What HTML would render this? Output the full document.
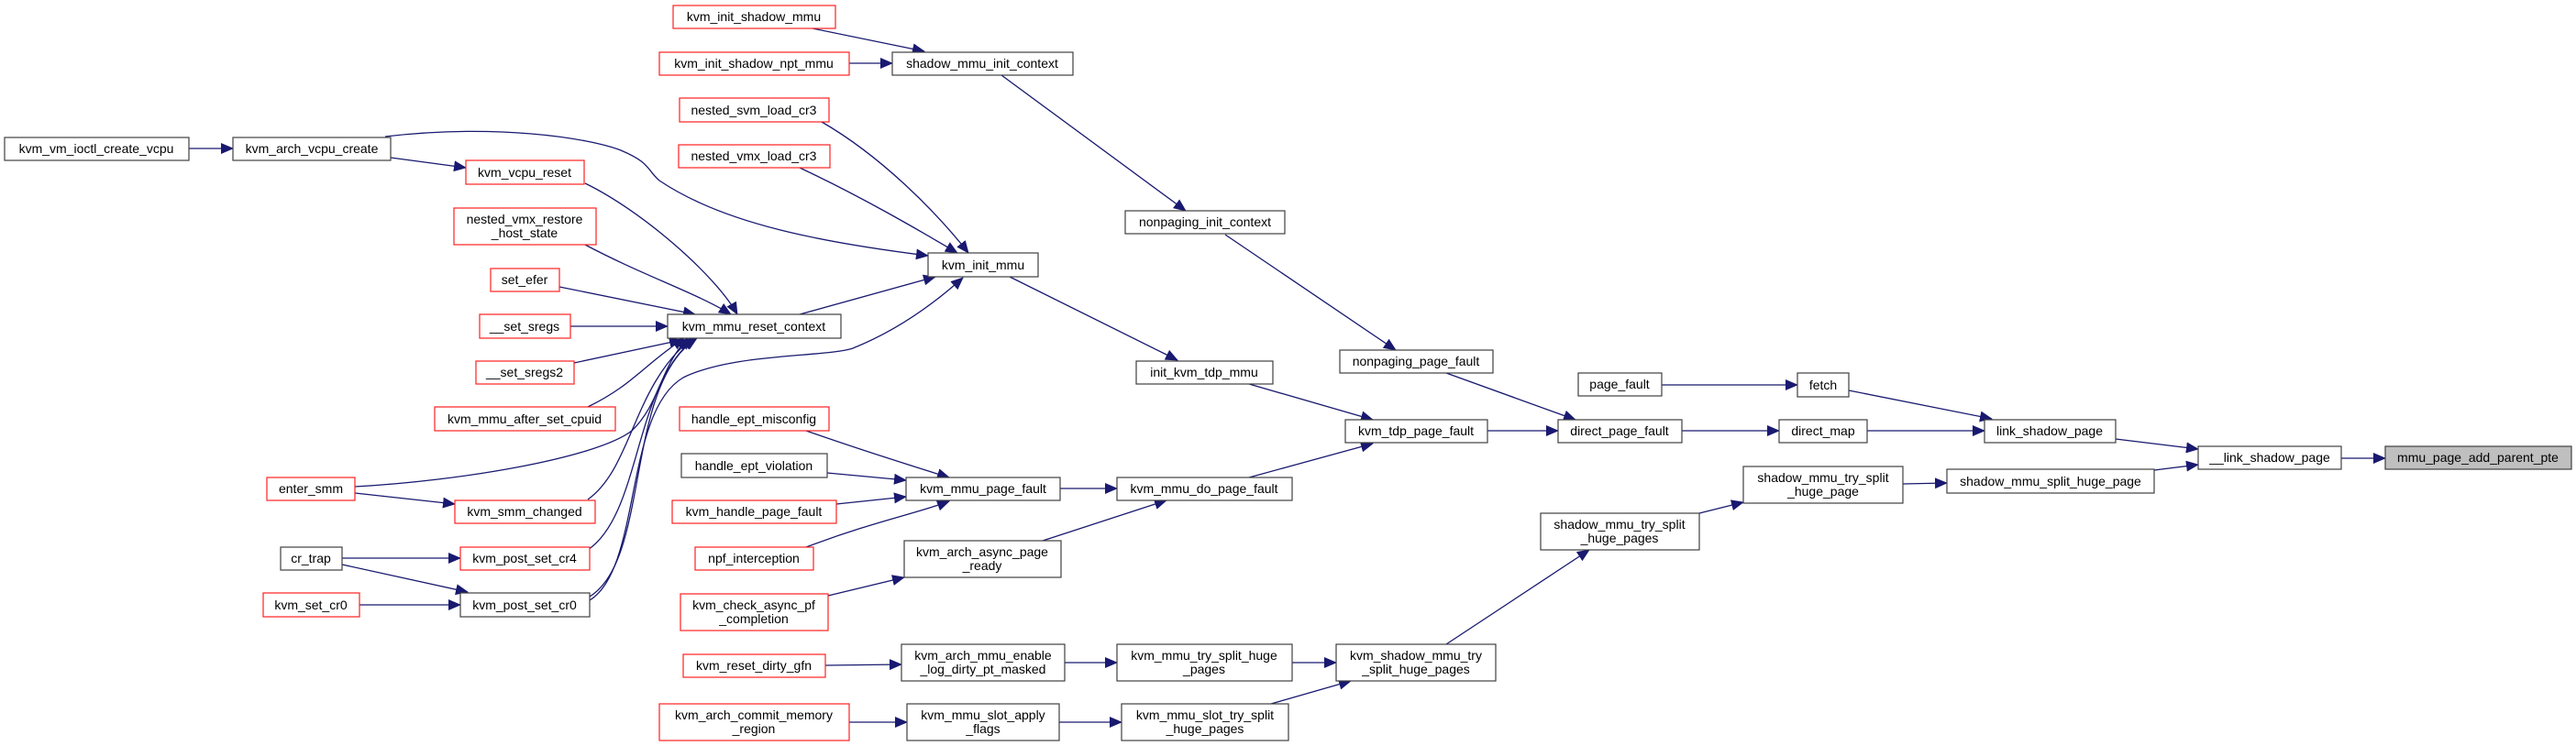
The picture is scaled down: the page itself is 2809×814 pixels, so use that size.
<!DOCTYPE html>
<html><head><meta charset="utf-8"><style>
html,body{margin:0;padding:0;background:#fff;}
svg{display:block;}
text{font-family:"Liberation Sans",sans-serif;font-size:14px;fill:#000;}
.n{fill:#fff;stroke-width:1.2;}
.b{stroke:#404040;}
.r{stroke:#ff2020;}
.e{fill:none;stroke:#191970;stroke-width:1.3;}
</style></head><body>
<svg width="2809" height="814" viewBox="0 0 2809 814" xmlns="http://www.w3.org/2000/svg">
<defs><marker id="a" markerWidth="14" markerHeight="12" refX="13" refY="6" orient="auto" markerUnits="userSpaceOnUse"><path d="M0,0 L14,6 L0,12 z" fill="#191970"/></marker></defs>
<g marker-end="url(#a)">
<path class="e" d="M206,162 L254,162"/>
<path class="e" d="M426,172 L508,183"/>
<path class="e" d="M420,149 C540,135 640,150 677,164 C710,178 705,185 719,197 C790,245 900,265 1012,279"/>
<path class="e" d="M638,200 C700,230 780,300 804,343"/>
<path class="e" d="M638,267 C700,300 760,320 797,343"/>
<path class="e" d="M610,313 L758,343"/>
<path class="e" d="M622,356 L728,356"/>
<path class="e" d="M626,396 L743,371"/>
<path class="e" d="M641,444 C690,420 700,400 746,369"/>
<path class="e" d="M387,531 C500,525 650,500 689,470 C720,440 720,400 750,369"/>
<path class="e" d="M641,545 C690,510 690,420 755,369"/>
<path class="e" d="M641,600 C700,560 690,420 758,369"/>
<path class="e" d="M643,651 C710,610 680,420 760,369"/>
<path class="e" d="M643,655 C700,620 680,450 745,412 C800,385 900,390 930,380 C980,360 1020,330 1050,303"/>
<path class="e" d="M872,343 L1020,302"/>
<path class="e" d="M896,133 C960,170 1020,230 1056,276"/>
<path class="e" d="M872,183 C940,215 1000,250 1044,276"/>
<path class="e" d="M886,31 L1008,56"/>
<path class="e" d="M926,69 L973,69"/>
<path class="e" d="M1092,82 L1293,230"/>
<path class="e" d="M1336,256 L1522,382"/>
<path class="e" d="M1101,302 L1284,393"/>
<path class="e" d="M1362,419 L1497,458"/>
<path class="e" d="M1577,407 L1718,458"/>
<path class="e" d="M1622,470 L1699,470"/>
<path class="e" d="M1362,521 L1497,484"/>
<path class="e" d="M1156,533 L1218,533"/>
<path class="e" d="M1137,590 L1272,546"/>
<path class="e" d="M879,470 C950,495 1000,510 1035,521"/>
<path class="e" d="M902,516 L988,524"/>
<path class="e" d="M912,550 L988,542"/>
<path class="e" d="M879,597 C950,570 1000,560 1035,547"/>
<path class="e" d="M903,650 L986,630"/>
<path class="e" d="M1812,420 L1960,420"/>
<path class="e" d="M1834,470 L1940,470"/>
<path class="e" d="M2016,426 L2172,457"/>
<path class="e" d="M2036,470 L2164,470"/>
<path class="e" d="M2307,479 L2397,490"/>
<path class="e" d="M2349,513 L2397,507"/>
<path class="e" d="M2075,528 L2123,527"/>
<path class="e" d="M1853,560 L1901,548"/>
<path class="e" d="M1577,703 L1733,600"/>
<path class="e" d="M1409,723 L1457,723"/>
<path class="e" d="M1386,768 L1473,743"/>
<path class="e" d="M1161,723 L1218,723"/>
<path class="e" d="M1155,788 L1223,788"/>
<path class="e" d="M900,726 L983,725"/>
<path class="e" d="M926,788 L989,788"/>
<path class="e" d="M2553,500 L2601,500"/>
<path class="e" d="M387,538 L496,550"/>
<path class="e" d="M373,609 L502,609"/>
<path class="e" d="M373,616 L510,646"/>
<path class="e" d="M392,660 L502,660"/>
</g>
<g>
<rect class="n r" x="734" y="6" width="177" height="25"/><text x="822" y="23" text-anchor="middle">kvm_init_shadow_mmu</text>
<rect class="n r" x="719" y="57" width="207" height="25"/><text x="822" y="74" text-anchor="middle">kvm_init_shadow_npt_mmu</text>
<rect class="n r" x="741" y="107" width="163" height="26"/><text x="822" y="125" text-anchor="middle">nested_svm_load_cr3</text>
<rect class="n r" x="740" y="158" width="165" height="25"/><text x="822" y="175" text-anchor="middle">nested_vmx_load_cr3</text>
<rect class="n b" x="5" y="150" width="201" height="25"/><text x="105" y="167" text-anchor="middle">kvm_vm_ioctl_create_vcpu</text>
<rect class="n b" x="254" y="150" width="172" height="25"/><text x="340" y="167" text-anchor="middle">kvm_arch_vcpu_create</text>
<rect class="n r" x="508" y="175" width="129" height="26"/><text x="572" y="193" text-anchor="middle">kvm_vcpu_reset</text>
<rect class="n r" x="495" y="227" width="155" height="40"/><text x="572" y="244" text-anchor="middle">nested_vmx_restore</text><text x="572" y="259" text-anchor="middle">_host_state</text>
<rect class="n r" x="535" y="293" width="75" height="25"/><text x="572" y="310" text-anchor="middle">set_efer</text>
<rect class="n r" x="523" y="343" width="99" height="26"/><text x="572" y="361" text-anchor="middle">__set_sregs</text>
<rect class="n b" x="728" y="343" width="189" height="26"/><text x="822" y="361" text-anchor="middle">kvm_mmu_reset_context</text>
<rect class="n r" x="519" y="394" width="107" height="25"/><text x="572" y="411" text-anchor="middle">__set_sregs2</text>
<rect class="n r" x="474" y="444" width="197" height="26"/><text x="572" y="462" text-anchor="middle">kvm_mmu_after_set_cpuid</text>
<rect class="n r" x="741" y="444" width="163" height="26"/><text x="822" y="462" text-anchor="middle">handle_ept_misconfig</text>
<rect class="n b" x="743" y="495" width="159" height="26"/><text x="822" y="513" text-anchor="middle">handle_ept_violation</text>
<rect class="n r" x="291" y="521" width="96" height="25"/><text x="339" y="538" text-anchor="middle">enter_smm</text>
<rect class="n r" x="496" y="546" width="153" height="25"/><text x="572" y="563" text-anchor="middle">kvm_smm_changed</text>
<rect class="n r" x="733" y="546" width="179" height="25"/><text x="822" y="563" text-anchor="middle">kvm_handle_page_fault</text>
<rect class="n b" x="306" y="597" width="67" height="25"/><text x="339" y="614" text-anchor="middle">cr_trap</text>
<rect class="n r" x="502" y="597" width="141" height="25"/><text x="572" y="614" text-anchor="middle">kvm_post_set_cr4</text>
<rect class="n r" x="758" y="597" width="129" height="25"/><text x="822" y="614" text-anchor="middle">npf_interception</text>
<rect class="n r" x="287" y="647" width="105" height="26"/><text x="339" y="665" text-anchor="middle">kvm_set_cr0</text>
<rect class="n b" x="502" y="647" width="141" height="26"/><text x="572" y="665" text-anchor="middle">kvm_post_set_cr0</text>
<rect class="n r" x="742" y="648" width="161" height="40"/><text x="822" y="665" text-anchor="middle">kvm_check_async_pf</text><text x="822" y="680" text-anchor="middle">_completion</text>
<rect class="n r" x="745" y="714" width="155" height="25"/><text x="822" y="731" text-anchor="middle">kvm_reset_dirty_gfn</text>
<rect class="n r" x="719" y="768" width="207" height="40"/><text x="822" y="785" text-anchor="middle">kvm_arch_commit_memory</text><text x="822" y="800" text-anchor="middle">_region</text>
<rect class="n b" x="973" y="57" width="197" height="25"/><text x="1071" y="74" text-anchor="middle">shadow_mmu_init_context</text>
<rect class="n b" x="1227" y="230" width="174" height="25"/><text x="1314" y="247" text-anchor="middle">nonpaging_init_context</text>
<rect class="n b" x="1012" y="276" width="120" height="26"/><text x="1072" y="294" text-anchor="middle">kvm_init_mmu</text>
<rect class="n b" x="1239" y="394" width="149" height="25"/><text x="1313" y="411" text-anchor="middle">init_kvm_tdp_mmu</text>
<rect class="n b" x="1461" y="382" width="167" height="25"/><text x="1544" y="399" text-anchor="middle">nonpaging_page_fault</text>
<rect class="n b" x="1721" y="407" width="91" height="25"/><text x="1766" y="424" text-anchor="middle">page_fault</text>
<rect class="n b" x="1467" y="458" width="155" height="25"/><text x="1544" y="475" text-anchor="middle">kvm_tdp_page_fault</text>
<rect class="n b" x="1699" y="458" width="135" height="25"/><text x="1766" y="475" text-anchor="middle">direct_page_fault</text>
<rect class="n b" x="988" y="521" width="168" height="25"/><text x="1072" y="538" text-anchor="middle">kvm_mmu_page_fault</text>
<rect class="n b" x="1218" y="521" width="191" height="25"/><text x="1313" y="538" text-anchor="middle">kvm_mmu_do_page_fault</text>
<rect class="n b" x="986" y="590" width="171" height="40"/><text x="1071" y="607" text-anchor="middle">kvm_arch_async_page</text><text x="1071" y="622" text-anchor="middle">_ready</text>
<rect class="n b" x="1680" y="560" width="173" height="40"/><text x="1766" y="577" text-anchor="middle">shadow_mmu_try_split</text><text x="1766" y="592" text-anchor="middle">_huge_pages</text>
<rect class="n b" x="983" y="703" width="178" height="40"/><text x="1072" y="720" text-anchor="middle">kvm_arch_mmu_enable</text><text x="1072" y="735" text-anchor="middle">_log_dirty_pt_masked</text>
<rect class="n b" x="1218" y="703" width="191" height="40"/><text x="1313" y="720" text-anchor="middle">kvm_mmu_try_split_huge</text><text x="1313" y="735" text-anchor="middle">_pages</text>
<rect class="n b" x="1457" y="703" width="174" height="40"/><text x="1544" y="720" text-anchor="middle">kvm_shadow_mmu_try</text><text x="1544" y="735" text-anchor="middle">_split_huge_pages</text>
<rect class="n b" x="989" y="768" width="166" height="40"/><text x="1072" y="785" text-anchor="middle">kvm_mmu_slot_apply</text><text x="1072" y="800" text-anchor="middle">_flags</text>
<rect class="n b" x="1223" y="768" width="182" height="40"/><text x="1314" y="785" text-anchor="middle">kvm_mmu_slot_try_split</text><text x="1314" y="800" text-anchor="middle">_huge_pages</text>
<rect class="n b" x="1960" y="407" width="56" height="26"/><text x="1988" y="425" text-anchor="middle">fetch</text>
<rect class="n b" x="1940" y="458" width="96" height="25"/><text x="1988" y="475" text-anchor="middle">direct_map</text>
<rect class="n b" x="2164" y="458" width="143" height="25"/><text x="2235" y="475" text-anchor="middle">link_shadow_page</text>
<rect class="n b" x="1901" y="509" width="174" height="40"/><text x="1988" y="526" text-anchor="middle">shadow_mmu_try_split</text><text x="1988" y="541" text-anchor="middle">_huge_page</text>
<rect class="n b" x="2123" y="512" width="226" height="26"/><text x="2236" y="530" text-anchor="middle">shadow_mmu_split_huge_page</text>
<rect class="n b" x="2397" y="487" width="156" height="25"/><text x="2475" y="504" text-anchor="middle">__link_shadow_page</text>
<rect x="2601" y="487" width="203" height="25" fill="#bfbfbf" stroke="#404040" stroke-width="1.2"/><text x="2702" y="504" text-anchor="middle">mmu_page_add_parent_pte</text>
</g>
</svg>
</body></html>
